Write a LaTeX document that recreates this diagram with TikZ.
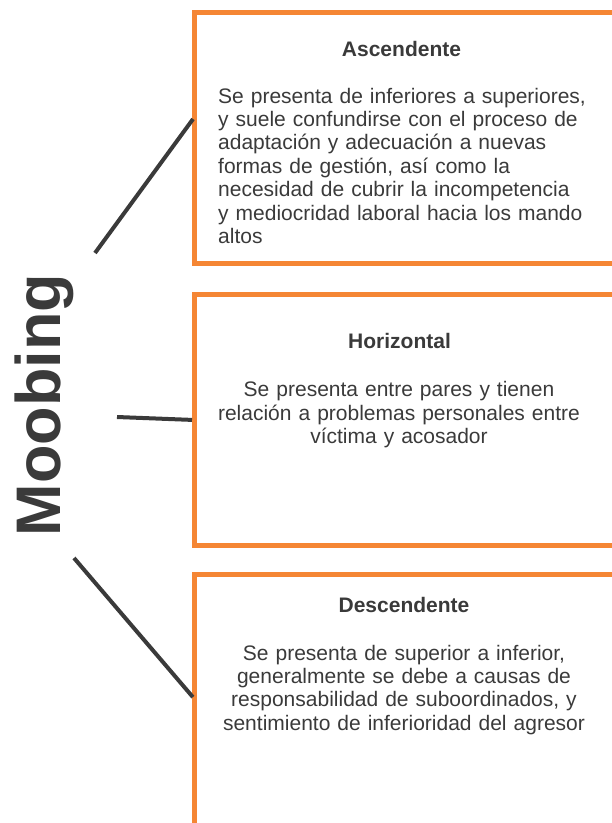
\documentclass[tikz,border=0pt]{standalone}
\usepackage{fontspec}
\setmainfont{Liberation Sans}
\definecolor{naranja}{HTML}{F58634}
\definecolor{gris}{HTML}{3A3A3A}
\begin{document}
\begin{tikzpicture}[x=1pt,y=-1pt,
    caja/.style={draw=naranja,line width=5pt,rectangle,anchor=north west,minimum width=460pt,outer sep=0pt,inner sep=0pt},
    titulo/.style={font=\fontsize{21}{23.4}\selectfont\bfseries,text=gris,anchor=base,inner sep=0pt},
    texto/.style={font=\fontsize{21}{23.4}\selectfont,text=gris,inner sep=0pt,text width=400pt},
    enlace/.style={draw=gris,line width=4pt,shorten >=2.5pt}]
    \useasboundingbox (0,0) rectangle (612,823);
    \clip (0,0) rectangle (612,823);
    % cajas de los tres tipos
    \node[caja,minimum height=251pt] (asc) at (194.5,12.5) {};
    \node[caja,minimum height=251pt] (hor) at (194.5,294.5) {};
    \node[caja,minimum height=280pt] (des) at (194.5,574.5) {};
    % titulo vertical
    \node[rotate=90,anchor=base,font=\fontsize{63}{70}\selectfont\bfseries,text=gris,inner sep=0pt] (moob) at (60,405) {Moobing};
    % enlaces
    \coordinate (p1) at (95,253);
    \coordinate (p2) at (117,417);
    \coordinate (p3) at (74,558);
    \draw[enlace] (p1) -- ([yshift=21pt]asc.west);
    \draw[enlace] (p2) -- (hor.west);
    \draw[enlace] (p3) -- ([yshift=15.5pt]des.west);
    % textos
    \node[titulo] (tasc) at (401.5,56) {Ascendente};
    \node[texto,align=left,anchor=base west] (basc) at (218,103) {Se presenta de inferiores a superiores,\\ y suele confundirse con el proceso de\\ adaptación y adecuación a nuevas\\ formas de gestión, así como la\\ necesidad de cubrir la incompetencia\\ y mediocridad laboral hacia los mando\\ altos};
    \node[titulo] (thor) at (399.5,348) {Horizontal};
    \node[texto,align=center,anchor=base] (bhor) at (399,396.7) {Se presenta entre pares y tienen\\ relación a problemas personales entre\\ víctima y acosador};
    \node[titulo] (tdes) at (404,612) {Descendente};
    \node[texto,align=center,anchor=base] (bdes) at (404,660) {Se presenta de superior a inferior,\\ generalmente se debe a causas de\\ responsabilidad de suboordinados, y\\ sentimiento de inferioridad del agresor};
\end{tikzpicture}
\end{document}
